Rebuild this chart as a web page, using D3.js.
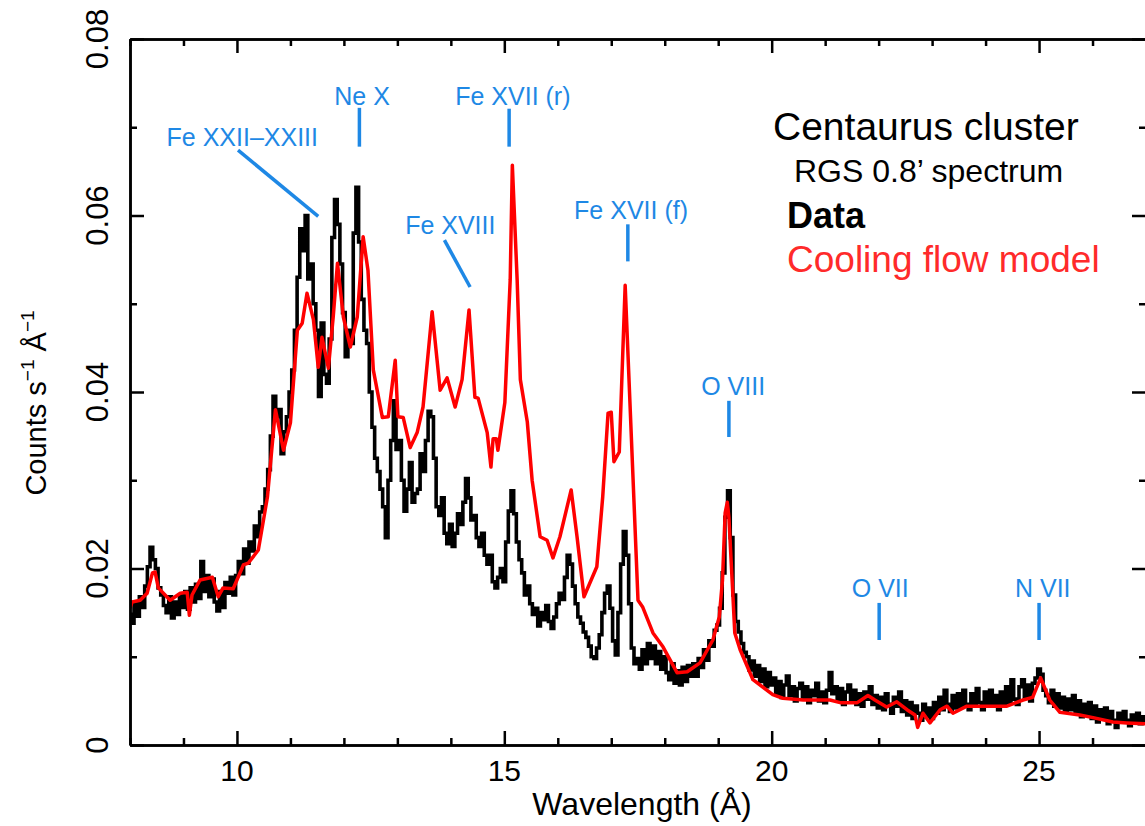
<!DOCTYPE html>
<html>
<head>
<meta charset="utf-8">
<script src="https://cdn.jsdelivr.net/npm/d3@7"></script>
<style>
  body { margin: 0; background: #fff; }
  svg { display: block; font-family: "Liberation Sans", Arial, Helvetica, sans-serif; }
</style>
</head>
<body>
<div id="chart"></div>
<script>
// RGS spectrum, binned at 0.05 A from 8.00 to 27.00 (counts s^-1 A^-1)
const dataStart = 8.0;
const dataStep = 0.05;
const dataCounts = [
  0.0148, 0.0138, 0.0160, 0.0146, 0.0168, 0.0156, 0.0180, 0.0202, 0.0224, 0.0210, 0.0200,
  0.0178, 0.0170, 0.0158, 0.0150, 0.0168, 0.0144, 0.0162, 0.0148, 0.0170, 0.0156,
  0.0174, 0.0154, 0.0178, 0.0162, 0.0182, 0.0166, 0.0208, 0.0174, 0.0192, 0.0168,
  0.0188, 0.0162, 0.0152, 0.0174, 0.0156, 0.0184, 0.0172, 0.0190, 0.0170, 0.0192,
  0.0208, 0.0194, 0.0222, 0.0206, 0.0230, 0.0220, 0.0248, 0.0236, 0.0264, 0.0270,
  0.0290, 0.0312, 0.0350, 0.0395, 0.0372, 0.0380, 0.0330, 0.0355, 0.0372, 0.0400,
  0.0425, 0.0470, 0.0530, 0.0585, 0.0560, 0.0600, 0.0528, 0.0545, 0.0500, 0.0470,
  0.0395, 0.0478, 0.0420, 0.0410, 0.0460, 0.0575, 0.0618, 0.0590, 0.0545, 0.0490,
  0.0440, 0.0470, 0.0455, 0.0580, 0.0632, 0.0570, 0.0505, 0.0470, 0.0455, 0.0400,
  0.0360, 0.0325, 0.0310, 0.0290, 0.0270, 0.0235, 0.0300, 0.0345, 0.0390, 0.0335,
  0.0345, 0.0300, 0.0265, 0.0290, 0.0320, 0.0275, 0.0285, 0.0290, 0.0330, 0.0310,
  0.0345, 0.0378, 0.0372, 0.0325, 0.0270, 0.0260, 0.0280, 0.0240, 0.0228, 0.0250,
  0.0225, 0.0240, 0.0262, 0.0250, 0.0275, 0.0302, 0.0280, 0.0255, 0.0260, 0.0235,
  0.0225, 0.0240, 0.0215, 0.0205, 0.0215, 0.0185, 0.0178, 0.0190, 0.0200, 0.0185,
  0.0230, 0.0265, 0.0288, 0.0262, 0.0230, 0.0210, 0.0195, 0.0170, 0.0180, 0.0160,
  0.0148, 0.0155, 0.0135, 0.0150, 0.0142, 0.0158, 0.0140, 0.0132, 0.0145, 0.0160,
  0.0172, 0.0165, 0.0190, 0.0215, 0.0205, 0.0180, 0.0160, 0.0145, 0.0138, 0.0128,
  0.0122, 0.0112, 0.0100, 0.0098, 0.0110, 0.0125, 0.0150, 0.0172, 0.0180, 0.0155,
  0.0118, 0.0102, 0.0150, 0.0205, 0.0242, 0.0215, 0.0160, 0.0110, 0.0092, 0.0098,
  0.0086, 0.0108, 0.0092, 0.0115, 0.0098, 0.0112, 0.0092, 0.0106, 0.0086, 0.0100,
  0.0082, 0.0074, 0.0092, 0.0070, 0.0084, 0.0068, 0.0088, 0.0072, 0.0090, 0.0078,
  0.0092, 0.0078, 0.0098, 0.0088, 0.0108, 0.0096, 0.0118, 0.0112, 0.0130, 0.0136,
  0.0155, 0.0195, 0.0258, 0.0288, 0.0235, 0.0170, 0.0140, 0.0128, 0.0115, 0.0105,
  0.0100, 0.0085, 0.0095, 0.0078, 0.0090, 0.0072, 0.0086, 0.0066, 0.0082, 0.0068,
  0.0076, 0.0058, 0.0072, 0.0054, 0.0068, 0.0078, 0.0056, 0.0066, 0.0050, 0.0064,
  0.0070, 0.0052, 0.0066, 0.0048, 0.0062, 0.0056, 0.0070, 0.0050, 0.0060, 0.0048,
  0.0062, 0.0082, 0.0058, 0.0066, 0.0050, 0.0064, 0.0046, 0.0060, 0.0068, 0.0050,
  0.0062, 0.0046, 0.0058, 0.0044, 0.0060, 0.0052, 0.0066, 0.0046, 0.0056, 0.0042,
  0.0054, 0.0040, 0.0058, 0.0046, 0.0036, 0.0054, 0.0044, 0.0060, 0.0038, 0.0050,
  0.0034, 0.0048, 0.0030, 0.0044, 0.0036, 0.0028, 0.0046, 0.0032, 0.0042, 0.0030,
  0.0048, 0.0036, 0.0054, 0.0040, 0.0062, 0.0046, 0.0038, 0.0056, 0.0042, 0.0058,
  0.0044, 0.0062, 0.0046, 0.0040, 0.0058, 0.0044, 0.0064, 0.0048, 0.0040, 0.0060,
  0.0046, 0.0062, 0.0044, 0.0056, 0.0040, 0.0060, 0.0046, 0.0066, 0.0048, 0.0074,
  0.0052, 0.0046, 0.0066, 0.0074, 0.0054, 0.0068, 0.0050, 0.0070, 0.0076, 0.0086,
  0.0080, 0.0062, 0.0056, 0.0048, 0.0062, 0.0044, 0.0058, 0.0042, 0.0054, 0.0038,
  0.0052, 0.0040, 0.0056, 0.0036, 0.0050, 0.0032, 0.0046, 0.0034, 0.0048, 0.0030,
  0.0044, 0.0026, 0.0040, 0.0030, 0.0042, 0.0024, 0.0038, 0.0028, 0.0020, 0.0036,
  0.0026, 0.0038, 0.0028, 0.0022, 0.0034, 0.0026, 0.0036, 0.0024, 0.0032, 0.0028
];

// Cooling flow model
const modelWave = [
  8.00, 8.04, 8.19, 8.32, 8.42, 8.47, 8.53, 8.75, 8.94, 9.07, 9.11, 9.16, 9.31, 9.54, 9.65, 9.74, 9.93,
  10.12, 10.21, 10.40, 10.57, 10.72, 10.87, 11.00, 11.13, 11.22, 11.31, 11.43, 11.52, 11.59, 11.71, 11.80,
  11.88, 11.99, 12.12, 12.25, 12.36, 12.45, 12.55, 12.72, 12.83, 12.96, 13.01, 13.11, 13.24, 13.37, 13.48,
  13.65, 13.80, 13.93, 14.08, 14.21, 14.34, 14.45, 14.51, 14.68, 14.75, 14.79, 14.85, 14.88, 15.01, 15.11,
  15.15, 15.24, 15.30, 15.43, 15.52, 15.67, 15.80, 15.91, 16.04, 16.25, 16.36, 16.49, 16.73, 16.84, 16.94,
  17.00, 17.05, 17.15, 17.26, 17.50, 17.59, 17.78, 17.97, 18.23, 18.42, 18.66, 18.90, 19.02, 19.08, 19.13,
  19.17, 19.20, 19.26, 19.31, 19.41, 19.65, 20.02, 20.21, 20.59, 21.09, 21.28, 21.60, 21.80, 21.93, 22.15,
  22.34, 22.53, 22.68, 22.73, 22.83, 22.96, 23.15, 23.28, 23.39, 23.65, 24.02, 24.40, 24.70, 24.88, 25.03,
  25.20, 25.39, 25.76, 26.01, 26.38, 26.64, 27.00
];
const modelCounts = [
  0.0155, 0.0162, 0.0164, 0.0172, 0.0195, 0.0196, 0.0178, 0.0164, 0.0172, 0.0173, 0.0147, 0.0170, 0.0187, 0.0190, 0.0168, 0.0178, 0.0177,
  0.0204, 0.0206, 0.0221, 0.0281, 0.0380, 0.0334, 0.0365, 0.0470, 0.0478, 0.0512, 0.0482, 0.0428, 0.0462, 0.0427, 0.0485,
  0.0546, 0.0485, 0.0451, 0.0485, 0.0576, 0.0538, 0.0425, 0.0371, 0.0372, 0.0436, 0.0372, 0.0371, 0.0337, 0.0354, 0.0383,
  0.0491, 0.0402, 0.0416, 0.0383, 0.0414, 0.0493, 0.0394, 0.0393, 0.0354, 0.0315, 0.0347, 0.0347, 0.0334, 0.0388, 0.0527,
  0.0657, 0.0527, 0.0414, 0.0366, 0.0300, 0.0236, 0.0232, 0.0212, 0.0236, 0.0289, 0.0236, 0.0168, 0.0202, 0.0281, 0.0376,
  0.0377, 0.0321, 0.0332, 0.0521, 0.0164, 0.0156, 0.0127, 0.0111, 0.0082, 0.0083, 0.0093, 0.0119, 0.0145, 0.0187, 0.0263,
  0.0275, 0.0258, 0.0187, 0.0127, 0.0108, 0.0074, 0.0057, 0.0053, 0.0051, 0.0051, 0.0048, 0.0048, 0.0056, 0.0051, 0.0043,
  0.0049, 0.0040, 0.0034, 0.0020, 0.0036, 0.0025, 0.0040, 0.0044, 0.0036, 0.0044, 0.0044, 0.0044, 0.0051, 0.0054, 0.0076,
  0.0051, 0.0037, 0.0034, 0.0031, 0.0026, 0.0025, 0.0024
];

// Line identifications: marker from (wave1,count1) to (wave2,count2), label centred at (labelWave,labelCount)
const markerNames = ["Fe XXII\u2013XXIII", "Ne X", "Fe XVII (r)", "Fe XVIII", "Fe XVII (f)", "O VIII", "O VII", "N VII"];
const markerWave1 = [10.02, 12.29, 15.09, 13.88, 17.31, 19.20, 22.01, 25.00];
const markerCount1 = [0.0674, 0.0722, 0.0721, 0.0572, 0.0590, 0.0390, 0.0161, 0.0161];
const markerWave2 = [11.52, 12.29, 15.09, 14.36, 17.31, 19.20, 22.01, 25.00];
const markerCount2 = [0.0599, 0.0678, 0.0678, 0.0519, 0.0548, 0.0349, 0.0119, 0.0119];
const labelWave = [10.10, 12.34, 15.16, 13.99, 17.37, 19.28, 22.03, 25.07];
const labelCount = [0.0679, 0.0725, 0.0725, 0.0579, 0.0596, 0.0397, 0.0168, 0.0168];

const xMajor = [10, 15, 20, 25];
const xMinor = d3.range(8, 28, 1).filter((v) => v % 5 !== 0);
const yMajor = [0, 0.02, 0.04, 0.06, 0.08];
const yMinor = [0.01, 0.03, 0.05, 0.07];

(function () {
  const W = 1145, H = 826;
  const left = 130, right = 1146, top = 39, bottom = 745;
  const blue = "#1e88e5";

  const svg = d3.select("#chart").append("svg").attr("width", W).attr("height", H);
  svg.append("rect").attr("width", W).attr("height", H).attr("fill", "#fff");

  const x = d3.scaleLinear().domain([8, 27]).range([left, right]);
  const y = d3.scaleLinear().domain([0, 0.08]).range([bottom, top]);

  svg.append("defs").append("clipPath").attr("id", "plot-clip")
    .append("rect").attr("x", left).attr("y", top)
    .attr("width", right - left).attr("height", bottom - top);

  const plot = svg.append("g").attr("clip-path", "url(#plot-clip)");

  // Data (black histogram)
  const dataLine = d3.line()
    .x((d, i) => x(dataStart + i * dataStep))
    .y((d) => y(d))
    .curve(d3.curveStep);
  plot.append("path")
    .datum(dataCounts)
    .attr("d", dataLine)
    .attr("fill", "none")
    .attr("stroke", "#000")
    .attr("stroke-width", 3.6)
    .attr("stroke-linejoin", "miter");

  // Model (red)
  const modelLine = d3.line()
    .x((d, i) => x(modelWave[i]))
    .y((d) => y(d));
  plot.append("path")
    .datum(modelCounts)
    .attr("d", modelLine)
    .attr("fill", "none")
    .attr("stroke", "#f00")
    .attr("stroke-width", 3.5)
    .attr("stroke-linejoin", "round");

  // Axes: ticks point inward on all four sides
  function frameAxis(axisFn, scale, pos, values, size) {
    return svg.append("g")
      .attr("transform", pos)
      .call(axisFn(scale).tickValues(values).tickSizeInner(-size).tickSizeOuter(0).tickFormat(""))
      .call((g) => g.selectAll("line").attr("stroke", "#000").attr("stroke-width", 2.5))
      .call((g) => g.select(".domain").attr("stroke", "#000").attr("stroke-width", 2.5));
  }
  frameAxis(d3.axisBottom, x, `translate(0,${bottom})`, xMajor, 14);
  frameAxis(d3.axisBottom, x, `translate(0,${bottom})`, xMinor, 7);
  frameAxis(d3.axisTop, x, `translate(0,${top})`, xMajor, 14);
  frameAxis(d3.axisTop, x, `translate(0,${top})`, xMinor, 7);
  frameAxis(d3.axisLeft, y, `translate(${left},0)`, yMajor, 14);
  frameAxis(d3.axisLeft, y, `translate(${left},0)`, yMinor, 7);
  frameAxis(d3.axisRight, y, `translate(${right},0)`, yMajor, 14);
  frameAxis(d3.axisRight, y, `translate(${right},0)`, yMinor, 7);

  // Tick labels
  svg.append("g").selectAll("text")
    .data(xMajor)
    .join("text")
    .attr("x", (d) => x(d))
    .attr("y", 781)
    .attr("text-anchor", "middle")
    .attr("font-size", "30px")
    .text((d) => d);

  const yFmt = (d) => (d === 0 ? "0" : d3.format(".2f")(d));
  svg.append("g").selectAll("text")
    .data(yMajor)
    .join("text")
    .attr("transform", (d) => `translate(108,${y(d)}) rotate(-90)`)
    .attr("text-anchor", "middle")
    .attr("font-size", "31px")
    .text(yFmt);

  // Axis titles
  svg.append("text")
    .attr("x", (left + right) / 2 + 4)
    .attr("y", 815)
    .attr("text-anchor", "middle")
    .attr("font-size", "32px")
    .text("Wavelength (\u00c5)");

  const ylab = svg.append("text")
    .attr("transform", `translate(46,403) rotate(-90)`)
    .attr("text-anchor", "middle")
    .attr("font-size", "29px");
  ylab.append("tspan").text("Counts s");
  ylab.append("tspan").attr("font-size", "19px").attr("dy", -12).text("\u22121");
  ylab.append("tspan").attr("dy", 12).text(" \u00c5");
  ylab.append("tspan").attr("font-size", "19px").attr("dy", -12).text("\u22121");

  // Line identifications
  const ann = svg.append("g");
  markerNames.forEach((name, i) => {
    ann.append("line")
      .attr("x1", x(markerWave1[i]))
      .attr("y1", y(markerCount1[i]))
      .attr("x2", x(markerWave2[i]))
      .attr("y2", y(markerCount2[i]))
      .attr("stroke", blue)
      .attr("stroke-width", 3.5);
    ann.append("text")
      .attr("x", x(labelWave[i]))
      .attr("y", y(labelCount[i]))
      .attr("text-anchor", "middle")
      .attr("font-size", "25px")
      .attr("fill", blue)
      .text(name);
  });

  // Key
  svg.append("text").attr("x", 773).attr("y", 140).attr("font-size", "39px").text("Centaurus cluster");
  svg.append("text").attr("x", 794).attr("y", 182).attr("font-size", "32px").text("RGS 0.8\u2019 spectrum");
  svg.append("text").attr("x", 787).attr("y", 228).attr("font-size", "36px").attr("font-weight", "bold").text("Data");
  svg.append("text").attr("x", 787).attr("y", 272).attr("font-size", "37px").attr("fill", "#ff2a2a").text("Cooling flow model");
})();
</script>
</body>
</html>
